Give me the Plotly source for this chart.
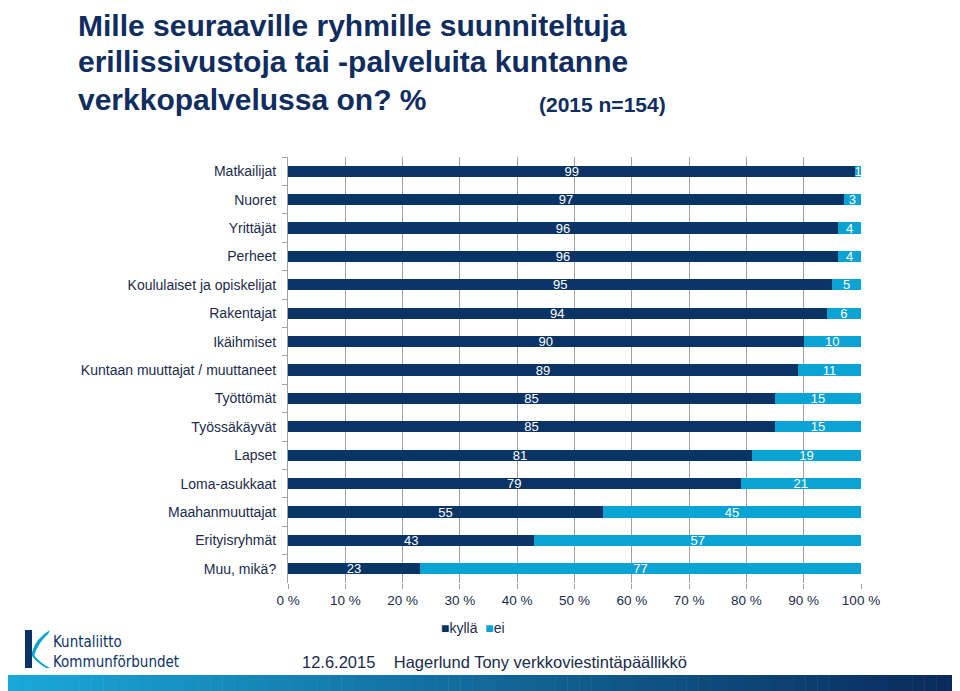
import plotly.graph_objects as go

categories = ["Matkailijat", "Nuoret", "Yrittäjät", "Perheet", "Koululaiset ja opiskelijat",
              "Rakentajat", "Ikäihmiset", "Kuntaan muuttajat / muuttaneet", "Työttömät",
              "Työssäkäyvät", "Lapset", "Loma-asukkaat", "Maahanmuuttajat", "Erityisryhmät",
              "Muu, mikä?"]
kylla = [99, 97, 96, 96, 95, 94, 90, 89, 85, 85, 81, 79, 55, 43, 23]
ei = [1, 3, 4, 4, 5, 6, 10, 11, 15, 15, 19, 21, 45, 57, 77]
x_ticks = [0, 10, 20, 30, 40, 50, 60, 70, 80, 90, 100]
x_tick_labels = [f"{v} %" for v in x_ticks]

NAVY = "#0b3466"
LIGHT = "#0aa3d4"
TXT = "#1b2b4b"
TITLE = "#0f2d5e"

OFF = 8  # page body margin
W, H = 960 - OFF, 691 - OFF
# plot area in page pixels
L, R, T, B = 288, 861, 157, 583

def px(x):
    return (x - L) / (R - L)

def py(y):
    return (B - y) / (B - T)

fig = go.Figure()
for name, vals, col in [("kyllä", kylla, NAVY), ("ei", ei, LIGHT)]:
    fig.add_trace(go.Bar(
        y=categories, x=vals, name=name, orientation="h", marker_color=col,
        marker_line_width=0,
        text=[str(v) for v in vals], textposition="inside", insidetextanchor="middle",
        textangle=0, constraintext="none",
        textfont=dict(color="white", size=13, family="Liberation Sans"), width=0.4,
    ))

fig.update_layout(
    barmode="stack", width=W, height=H,
    margin=dict(l=L - OFF, r=(960 - R), t=T - OFF, b=(691 - B), autoexpand=False),
    plot_bgcolor="white", paper_bgcolor="white",
    font=dict(family="Liberation Sans", color=TXT, size=13),
    showlegend=False,
    xaxis=dict(range=[0, 100], tickvals=x_ticks, ticktext=x_tick_labels,
               showgrid=True, gridcolor="#a0a0a0", gridwidth=1,
               ticks="outside", ticklen=5, tickcolor="#a0a0a0",
               showline=False, zeroline=False,
               tickfont=dict(size=13.5, color=TXT), fixedrange=True),
    yaxis=dict(categoryorder="array", categoryarray=categories, autorange="reversed",
               showline=True, linecolor="#a0a0a0", ticks="outside", ticklen=5,
               tickcolor="#a0a0a0", tickson="boundaries", showgrid=False,
               ticklabelstandoff=8,
               tickfont=dict(size=14, color=TXT)),
    bargap=0.6,
)

ann = []
title_font = dict(family="Liberation Sans", size=30, color=TITLE, weight="bold")
for txt, y in [("Mille seuraaville ryhmille suunniteltuja", 26),
               ("erillissivustoja tai -palveluita kuntanne", 61),
               ("verkkopalvelussa on? %", 100)]:
    ann.append(dict(text=txt, x=px(76), y=py(y), xref="paper", yref="paper",
                    xanchor="left", yanchor="middle", showarrow=False, font=title_font))
ann.append(dict(text="(2015 n=154)", x=px(537), y=py(104), xref="paper", yref="paper",
                xanchor="left", yanchor="middle", showarrow=False,
                font=dict(family="Liberation Sans", size=21, color=TITLE, weight="bold")))
ann.append(dict(text="12.6.2015&nbsp;&nbsp;&nbsp;&nbsp;Hagerlund Tony verkkoviestintäpäällikkö",
                x=px(300), y=py(662), xref="paper", yref="paper", xanchor="left",
                yanchor="middle", showarrow=False,
                font=dict(family="Liberation Sans", size=16.5, color=TXT)))
ann.append(dict(text="Kuntaliitto<br>Kommunförbundet", x=px(51), y=py(652), xref="paper",
                yref="paper", xanchor="left", yanchor="middle", showarrow=False, align="left",
                font=dict(family="DejaVu Sans Condensed", size=15, color=NAVY)))
# legend drawn as text with coloured squares
ann.append(dict(text=f"<span style='color:{NAVY}'>■</span>kyllä&nbsp;&nbsp;<span style='color:{LIGHT}'>■</span>ei",
                x=px(439), y=py(628), xref="paper", yref="paper", xanchor="left",
                yanchor="middle", showarrow=False,
                font=dict(family="Liberation Sans", size=14, color=TXT)))
fig.update_layout(annotations=ann)

shapes = []
# logo mark
shapes.append(dict(type="rect", xref="paper", yref="paper", x0=px(25), x1=px(32),
                   y0=py(668), y1=py(630), fillcolor=NAVY, line_width=0))
shapes.append(dict(type="path", xref="paper", yref="paper",
                   path=f"M {px(32)},{py(652)} Q {px(36)},{py(638)} {px(50)},{py(630)} "
                        f"L {px(48)},{py(634)} Q {px(38)},{py(643)} {px(34)},{py(656)} Z",
                   fillcolor=LIGHT, line_width=0))
shapes.append(dict(type="path", xref="paper", yref="paper",
                   path=f"M {px(32)},{py(652)} Q {px(38)},{py(662)} {px(50)},{py(668)} "
                        f"L {px(46)},{py(668)} Q {px(36)},{py(662)} {px(32)},{py(656)} Z",
                   fillcolor=LIGHT, line_width=0))
# gradient footer band
n = 80
c0 = (0x1a, 0xa8, 0xd8)
c1 = (0x0a, 0x2a, 0x5c)
for i in range(n):
    t = i / (n - 1)
    c = tuple(int(c0[k] + (c1[k] - c0[k]) * t) for k in range(3))
    x0 = OFF + i * (960 - OFF) / n
    x1 = OFF + (i + 1) * (960 - OFF) / n + 0.5
    shapes.append(dict(type="rect", xref="paper", yref="paper", x0=px(x0), x1=px(x1),
                       y0=py(691), y1=py(675), fillcolor="rgb(%d,%d,%d)" % c, line_width=0,
                       layer="above"))
fig.update_layout(shapes=shapes)

fig.write_html("out.html")
